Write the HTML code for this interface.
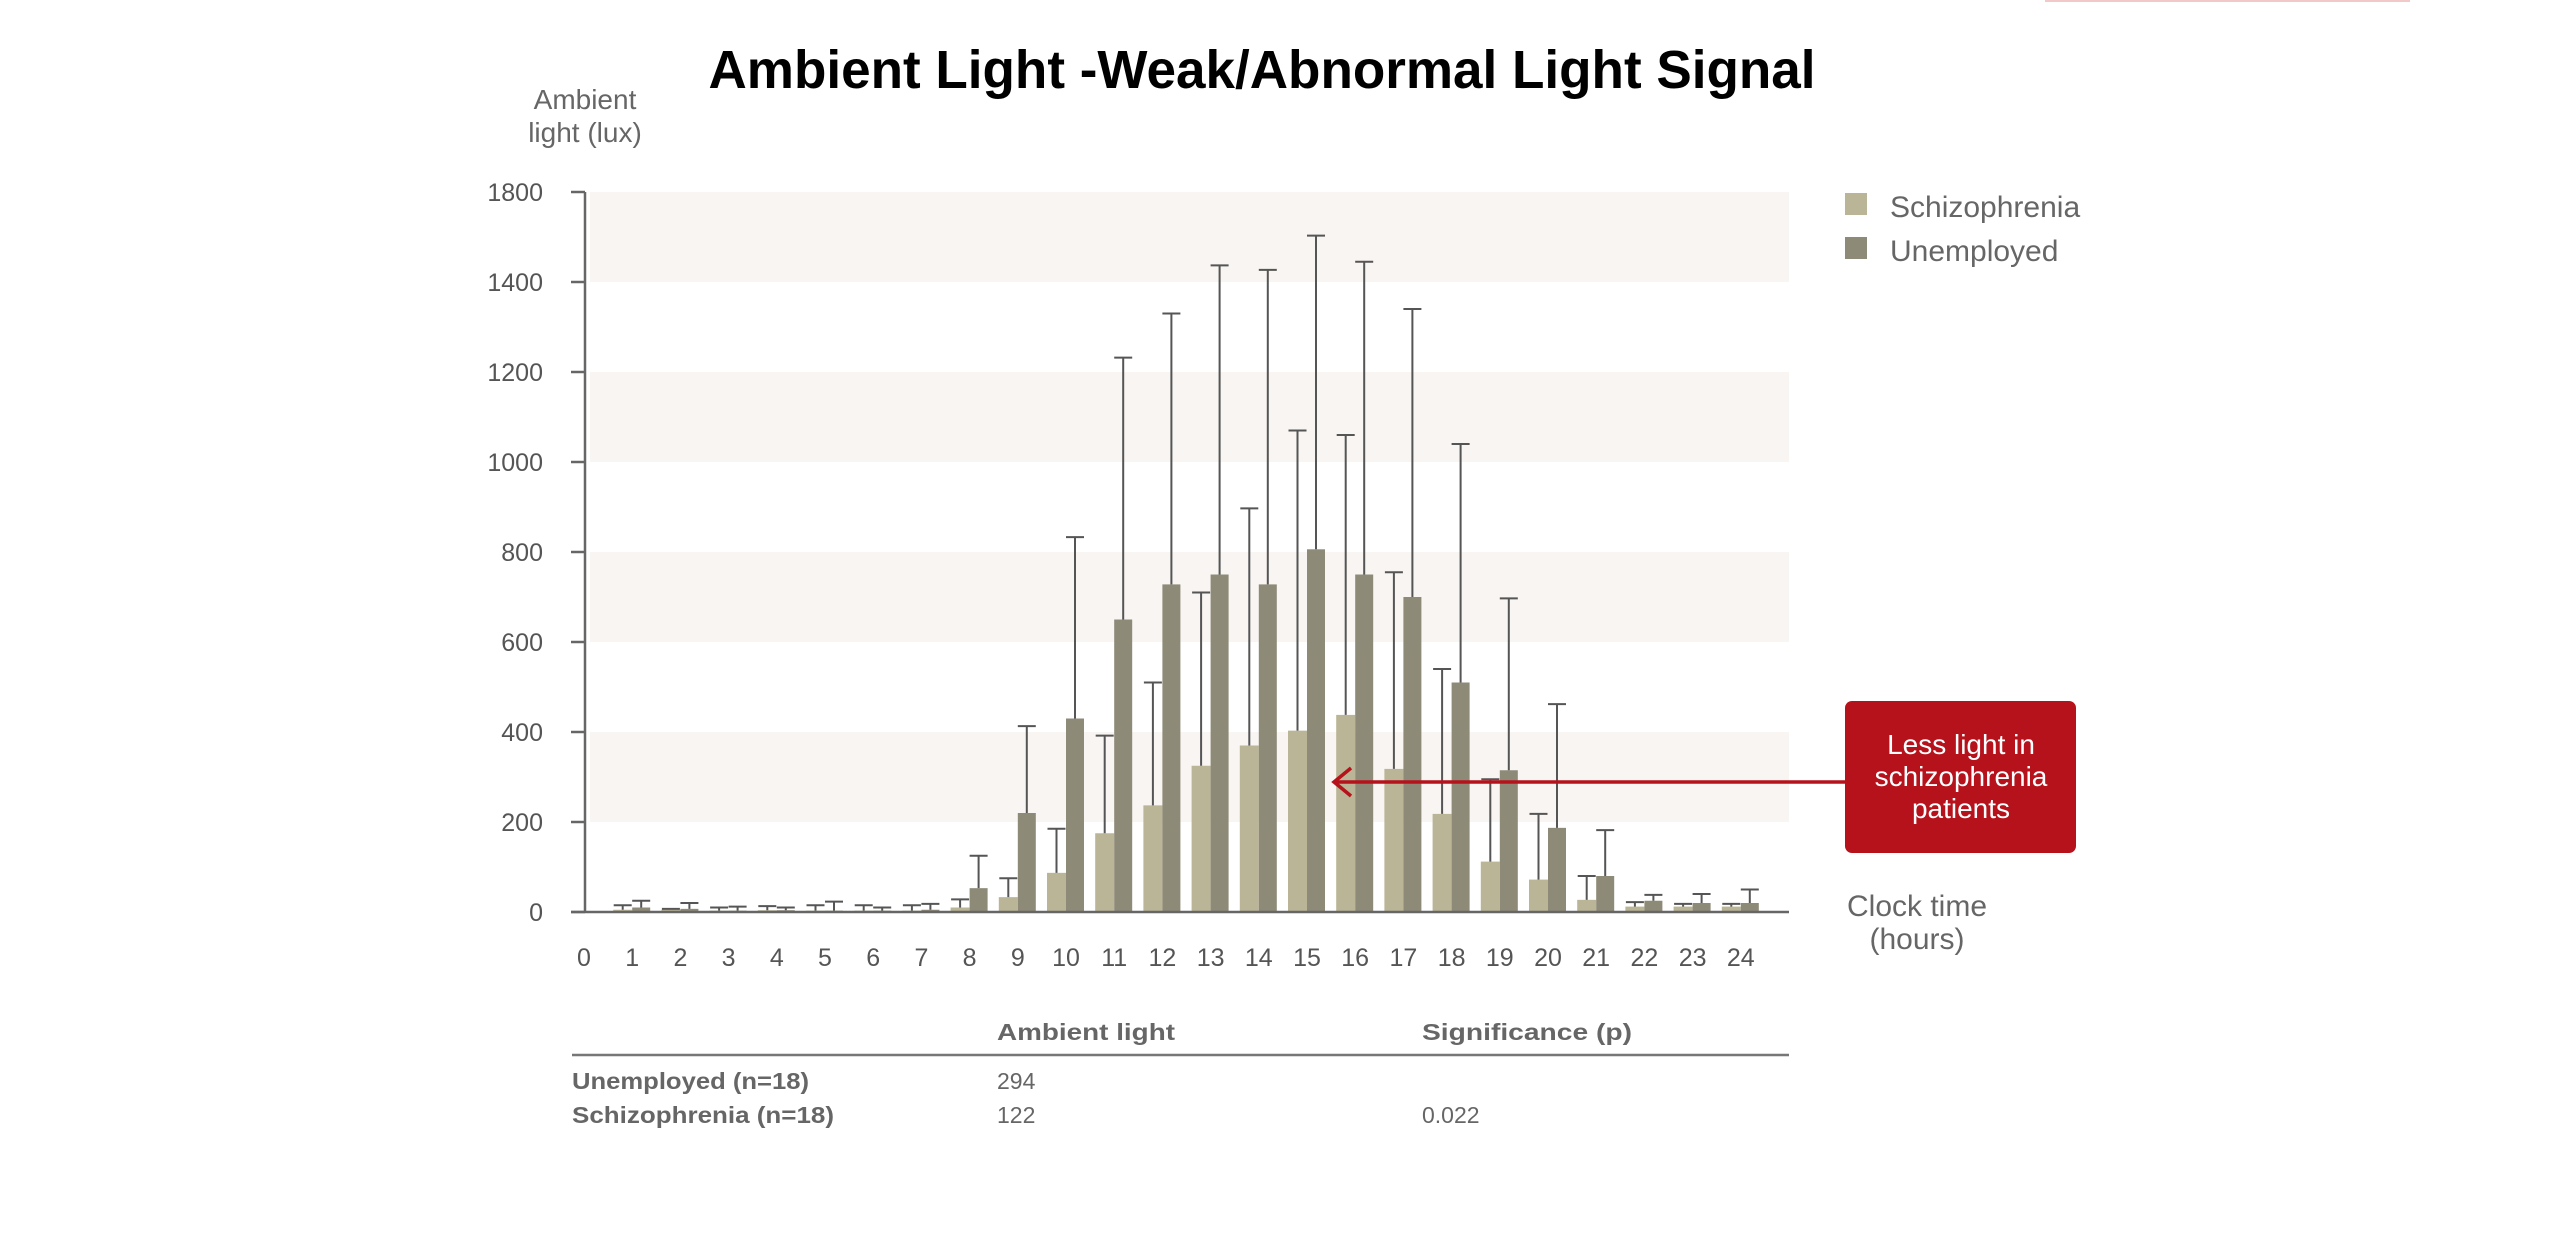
<!DOCTYPE html>
<html><head><meta charset="utf-8"><style>
html,body{margin:0;padding:0;background:#fff;}
svg{display:block;}
</style></head><body>
<svg id="s" width="2560" height="1252" viewBox="0 0 2560 1252" xmlns="http://www.w3.org/2000/svg" font-family="Liberation Sans, sans-serif">
<line x1="2045" y1="1" x2="2410" y2="1" stroke="#f2c8c8" stroke-width="2"/>
<text x="1262" y="88" text-anchor="middle" font-size="54" font-weight="bold" fill="#000" textLength="1107" lengthAdjust="spacingAndGlyphs">Ambient Light -Weak/Abnormal Light Signal</text>
<text x="585" y="109" text-anchor="middle" font-size="28" fill="#666">Ambient</text>
<text x="585" y="142" text-anchor="middle" font-size="28" fill="#666">light (lux)</text>
<g fill="#f8f5f2">
<rect x="590" y="192" width="1199" height="90"/>
<rect x="590" y="372" width="1199" height="90"/>
<rect x="590" y="552" width="1199" height="90"/>
<rect x="590" y="732" width="1199" height="90"/>
</g>
<g id="bars"></g>
<g stroke="#666" stroke-width="2.5">
<line x1="585" y1="192" x2="585" y2="912"/>
<line x1="571" y1="912" x2="1789" y2="912"/>
</g>
<g id="ticks" font-size="25" fill="#555"></g>
<rect x="1845" y="193" width="22" height="22" fill="#bab596"/>
<rect x="1845" y="237" width="22" height="22" fill="#8e8a78"/>
<text x="1890" y="217" font-size="30" fill="#666">Schizophrenia</text>
<text x="1890" y="261" font-size="30" fill="#666">Unemployed</text>
<line x1="1336" y1="782" x2="1846" y2="782" stroke="#b5121b" stroke-width="3.5"/>
<polyline points="1351,768 1334,782 1351,796" fill="none" stroke="#b5121b" stroke-width="3.5"/>
<rect x="1845" y="701" width="231" height="152" rx="7" fill="#b5121b"/>
<g font-size="28" fill="#fff" text-anchor="middle">
<text x="1961" y="754">Less light in</text>
<text x="1961" y="786">schizophrenia</text>
<text x="1961" y="818">patients</text>
</g>
<text x="1917" y="916" text-anchor="middle" font-size="30" fill="#666">Clock time</text>
<text x="1917" y="949" text-anchor="middle" font-size="30" fill="#666">(hours)</text>
<g font-size="23" fill="#666">
<text x="997" y="1040" font-weight="bold" textLength="178" lengthAdjust="spacingAndGlyphs">Ambient light</text>
<text x="1422" y="1040" font-weight="bold" textLength="210" lengthAdjust="spacingAndGlyphs">Significance (p)</text>
<text x="572" y="1089" font-weight="bold" textLength="237" lengthAdjust="spacingAndGlyphs">Unemployed (n=18)</text>
<text x="572" y="1123" font-weight="bold" textLength="262" lengthAdjust="spacingAndGlyphs">Schizophrenia (n=18)</text>
<text x="997" y="1089">294</text>
<text x="997" y="1123">122</text>
<text x="1422" y="1123">0.022</text>
</g>
<line x1="572" y1="1055" x2="1789" y2="1055" stroke="#777" stroke-width="2.5"/>
</svg>
<script>
var S=[5,5,3,4,3,3,3,10,33,87,175,237,325,370,403,438,318,218,112,72,27,12,12,12];
var U=[10,7,3,4,3,3,5,53,220,430,650,728,750,728,806,750,700,510,315,187,80,25,20,20];
var SE=[15,7,10,13,15,15,15,28,75,185,392,510,710,897,1070,1060,755,540,295,218,80,22,18,18];
var UE=[25,20,12,10,23,10,18,125,413,833,1232,1330,1437,1427,1503,1445,1340,1040,697,462,182,38,40,50];
var y=v=>912-v*0.45,h='';
function X(i){return 584+48.2*i;}
for(var i=0;i<24;i++){var x=X(i+1);
h+='<rect x="'+(x-19)+'" y="'+y(S[i])+'" width="19" height="'+(S[i]*0.45)+'" fill="#bab596"/>';
h+='<rect x="'+x+'" y="'+y(U[i])+'" width="18" height="'+(U[i]*0.45)+'" fill="#8e8a78"/>';
var c1=x-9.5,c2=x+9;
h+='<path d="M'+c1+' '+y(S[i])+'V'+y(SE[i])+'M'+(c1-9)+' '+y(SE[i])+'H'+(c1+9)+'M'+c2+' '+y(U[i])+'V'+y(UE[i])+'M'+(c2-9)+' '+y(UE[i])+'H'+(c2+9)+'" stroke="#555" stroke-width="2" fill="none"/>';}
document.getElementById('bars').innerHTML=h;
var t='',labs=['0','200','400','600','800','1000','1200','1400','1800'];
for(var k=0;k<9;k++){var yy=912-90*k;t+='<line x1="571" y1="'+yy+'" x2="585" y2="'+yy+'" stroke="#666" stroke-width="2.5"/><text x="543" y="'+(yy+9)+'" text-anchor="end">'+labs[k]+'</text>';}
for(var i=0;i<=24;i++)t+='<text x="'+X(i)+'" y="966" text-anchor="middle">'+i+'</text>';
document.getElementById('ticks').innerHTML=t;
</script>
</body></html>
